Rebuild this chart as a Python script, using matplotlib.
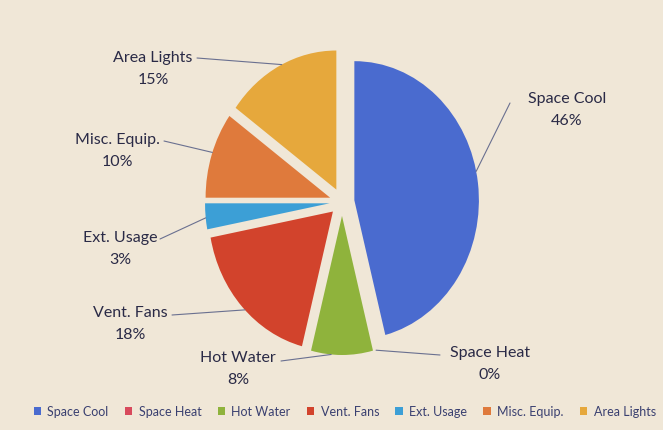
import numpy as np
import matplotlib.pyplot as plt

# data
labels = ["Space Cool", "Space Heat", "Hot Water", "Vent. Fans", "Ext. Usage", "Misc. Equip.", "Area Lights"]
values = [46, 0, 8, 18, 3, 10, 15]
colors = ["#4a6bcf", "#d84a5c", "#8fb33c", "#d2432c", "#3c9fd6", "#df7a3c", "#e6a83c"]

bg = "#f0e7d7"
txt = "#2a2a46"
line_col = "#6a7090"

plt.rcParams["font.family"] = ["Lato", "DejaVu Sans"]

fig = plt.figure(figsize=(6.63, 4.31), dpi=100, facecolor=bg)
W, H = 663.0, 431.0

ax = fig.add_axes([205 / W, 1 - 356 / H, 274 / W, 306 / H])
ax.set_facecolor(bg)
expl = 0.1
lim = 1 + expl
wedges, _ = ax.pie(values, colors=colors, startangle=90, counterclock=False,
                   explode=[expl] * len(values),
                   wedgeprops=dict(linewidth=0))
ax.set_aspect("auto")
ax.set_xlim(-lim, lim)
ax.set_ylim(-lim, lim)
ax.axis("off")

# label text centre (px), line start (px), angle where leader meets wedge
lab_pos = {
    "Space Cool": ((567, 110), (510, 104), 12),
    "Space Heat": ((490, 364), (440, 356), None),
    "Hot Water": ((238, 369), (281, 362), 265),
    "Vent. Fans": ((130, 324), (172, 316), 225),
    "Ext. Usage": ((120, 249), (160, 240), 186),
    "Misc. Equip.": ((117, 151), (164, 142), 161),
    "Area Lights": ((153, 69), (197, 59), 116),
}

for lab, v, w in zip(labels, values, wedges):
    (tx, ty), (lx, ly), ang = lab_pos[lab]
    fig.text(tx / W, 1 - ty / H, lab + "\n" + str(v) + "%", ha="center", va="center",
             fontsize=11.5, color=txt, linespacing=1.7)
    mid = np.deg2rad((w.theta1 + w.theta2) / 2)
    a = mid if ang is None else np.deg2rad(ang)
    r = 1.0 + (expl if ang is None else 0)
    px = (expl * np.cos(mid) if ang is not None else 0) + r * np.cos(a)
    py = (expl * np.sin(mid) if ang is not None else 0) + r * np.sin(a)
    ax.annotate("", xy=(px, py), xycoords="data",
                xytext=(lx / W, 1 - ly / H), textcoords="figure fraction",
                arrowprops=dict(arrowstyle="-", color=line_col, lw=0.8,
                                shrinkA=0, shrinkB=0))

fig.legend(wedges, labels, loc="center", bbox_to_anchor=(0.52, 1 - 412 / H), ncol=7,
           frameon=False, fontsize=9, handlelength=0.6, handleheight=0.6,
           handletextpad=0.5, columnspacing=1.3, labelcolor="#3a4070")

fig.savefig("out.png", dpi=100, facecolor=bg)
